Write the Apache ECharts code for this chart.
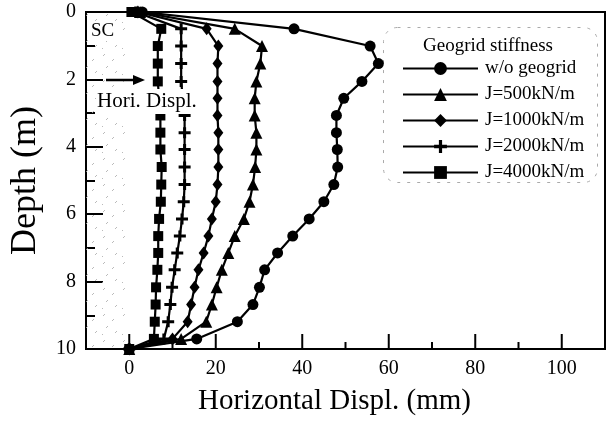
<!DOCTYPE html>
<html>
<head>
<meta charset="utf-8">
<script src="https://cdn.jsdelivr.net/npm/echarts@6/dist/echarts.min.js"></script>
<style>
html,body{margin:0;padding:0;background:#fff;}
#chart{width:612px;height:425px;}
</style>
</head>
<body>
<div id="chart"></div>
<script>
// ---- data ----
var depths = [0, 0.5, 1.01, 1.53, 2.06, 2.56, 3.07, 3.58, 4.08, 4.6, 5.12, 5.63, 6.14, 6.65, 7.15, 7.65, 8.17, 8.68, 9.19, 9.7, 10];
var seriesNames = ['w/o geogrid', 'J=500kN/m', 'J=1000kN/m', 'J=2000kN/m', 'J=4000kN/m'];
var dispNoGeogrid = [3, 38.1, 55.7, 57.6, 53.8, 49.6, 47.9, 47.9, 48.1, 48.2, 47.3, 45.0, 41.6, 37.8, 34.3, 31.3, 30.1, 28.6, 25.0, 15.6, 0];
var dispJ500  = [2.5, 24.4, 30.7, 30.3, 29.4, 29.0, 29.0, 29.4, 29.4, 29.1, 28.6, 27.8, 26.5, 24.4, 22.9, 21.4, 20.2, 19.1, 17.8, 12.0, 0];
var dispJ1000 = [2.0, 17.9, 20.6, 20.4, 20.4, 20.4, 20.4, 20.6, 20.6, 20.6, 20.4, 20.0, 19.1, 18.3, 17.2, 16.0, 15.1, 14.3, 13.5, 10.0, 0];
var dispJ2000 = [1.5, 12.0, 12.0, 12.0, 12.0, 12.4, 12.8, 12.8, 12.8, 12.8, 12.8, 12.6, 12.2, 11.7, 11.1, 10.5, 9.9, 9.5, 9.0, 8.0, 0];
var dispJ4000 = [0.5, 7.4, 6.6, 6.6, 6.6, 6.9, 7.2, 7.2, 7.2, 7.5, 7.4, 7.3, 6.9, 6.7, 6.7, 6.5, 6.2, 6.1, 5.9, 5.7, 0];
var xMajorTicks = [0, 20, 40, 60, 80, 100];
var xMinorTicks = [10, 30, 50, 70, 90];
var scZone = [-10, -1];

var FONT = '"Liberation Serif", "Times New Roman", serif';
var plusPath = 'path://M0,4H12V7H0Z M4.5,0H7.5V11H4.5Z';
var symbols = ['circle', 'triangle', 'diamond', plusPath, 'rect'];
var symbolSizes = [11, 12, [10, 13], [12, 11], 10];
var allDisp = [dispNoGeogrid, dispJ500, dispJ1000, dispJ2000, dispJ4000];

// speckle texture for the stone-column (SC) zone
var pc = document.createElement('canvas');
pc.width = 20; pc.height = 26;
var g = pc.getContext('2d');
g.strokeStyle = '#a8a8a8';
g.lineWidth = 0.8;
[[3,4,5,2],[12,9,14,7],[6,16,8,14],[15,21,17,19],[2,23,3,22]].forEach(function(s){
  g.beginPath(); g.moveTo(s[0], s[1]); g.lineTo(s[2], s[3]); g.stroke();
});

function pairs(arr) {
  return arr.map(function (v, i) { return [v, depths[i]]; });
}

var series = seriesNames.map(function (name, k) {
  var s = {
    name: name, type: 'line', data: pairs(allDisp[k]),
    symbol: symbols[k], symbolSize: symbolSizes[k], showAllSymbol: true,
    itemStyle: { color: '#000' }, lineStyle: { color: '#000', width: 2.2 }, z: 3
  };
  if (k === 0) {
    s.markArea = {
      silent: true,
      itemStyle: { color: { image: pc, repeat: 'repeat' } },
      data: [[{ xAxis: scZone[0], yAxis: 0 }, { xAxis: scZone[1], yAxis: 10 }]],
      z: 1
    };
  }
  return s;
});

// inward x-axis tick marks (major/minor), placed through the axis scale
function tickSeries(values, len) {
  return {
    type: 'custom', silent: true, z: 4, clip: false,
    data: values.map(function (v) { return [v, 10]; }),
    renderItem: function (params, api) {
      var p = api.coord([api.value(0), api.value(1)]);
      return { type: 'rect', shape: { x: p[0] - 1, y: p[1] - len, width: 2, height: len },
               style: { fill: '#000' } };
    }
  };
}
series.push(tickSeries(xMajorTicks, 15));
series.push(tickSeries(xMinorTicks, 7));

var chart = echarts.init(document.getElementById('chart'), null, { renderer: 'canvas' });
chart.setOption({
  backgroundColor: '#fff',
  animation: false,
  grid: { left: 82, right: 7, top: 12, bottom: 76, show: true, borderColor: '#000', borderWidth: 2 },
  xAxis: {
    type: 'value', min: -10, max: 110, interval: 10, position: 'bottom',
    name: 'Horizontal Displ. (mm)', nameLocation: 'middle', nameGap: 38,
    nameTextStyle: { fontFamily: FONT, fontSize: 29, color: '#000', padding: [0, 22, 0, 0] },
    axisLine: { show: true, onZero: false, lineStyle: { color: '#000', width: 2 } },
    axisTick: { show: false },
    axisLabel: { show: true, margin: 10, fontFamily: FONT, fontSize: 20, color: '#000',
      formatter: function (v) { return xMajorTicks.indexOf(v) >= 0 ? String(v) : ''; } },
    splitLine: { show: false }
  },
  yAxis: {
    type: 'value', inverse: true, min: 0, max: 10, interval: 2,
    name: 'Depth (m)', nameLocation: 'middle', nameGap: 42, nameRotate: 90,
    nameTextStyle: { fontFamily: FONT, fontSize: 36, color: '#000' },
    axisLine: { show: true, onZero: false, lineStyle: { color: '#000', width: 2 } },
    axisTick: { show: true, inside: true, length: 17, lineStyle: { color: '#000', width: 2 } },
    minorTick: { show: true, splitNumber: 2, length: 9, lineStyle: { color: '#000', width: 2 } },
    axisLabel: { margin: 10, fontFamily: FONT, fontSize: 20, color: '#000' },
    splitLine: { show: false }
  },
  legend: {
    orient: 'vertical', left: 397, top: 54,
    itemWidth: 75, itemHeight: 16, itemGap: 7,
    textStyle: { fontFamily: FONT, fontSize: 19, color: '#000', padding: [0, 0, 0, 2] },
    data: seriesNames
  },
  graphic: [
    { type: 'rect', left: 383, top: 27, shape: { width: 214, height: 155, r: 14 },
      style: { fill: '#fff', stroke: '#aaa', lineWidth: 1, lineDash: [3, 7] }, z: 0 },
    { type: 'text', left: 423, top: 37, style: { text: 'Geogrid stiffness', font: '19px ' + FONT, fill: '#000' }, z: 10 },
    { type: 'text', left: 91, top: 22, style: { text: 'SC', font: '19px ' + FONT, fill: '#000', backgroundColor: '#fff' }, z: 10 },
    { type: 'text', left: 96, top: 89, style: { text: 'Hori. Displ.', font: '21px ' + FONT, fill: '#000', backgroundColor: '#fff', padding: [2, 1, 2, 1] }, z: 10 },
    { type: 'line', shape: { x1: 106, y1: 80, x2: 136, y2: 80 }, style: { stroke: '#000', lineWidth: 2.5 }, z: 10 },
    { type: 'polygon', shape: { points: [[133, 75], [145, 80], [133, 85]] }, style: { fill: '#000' }, z: 10 }
  ],
  series: series
});
</script>
</body>
</html>
